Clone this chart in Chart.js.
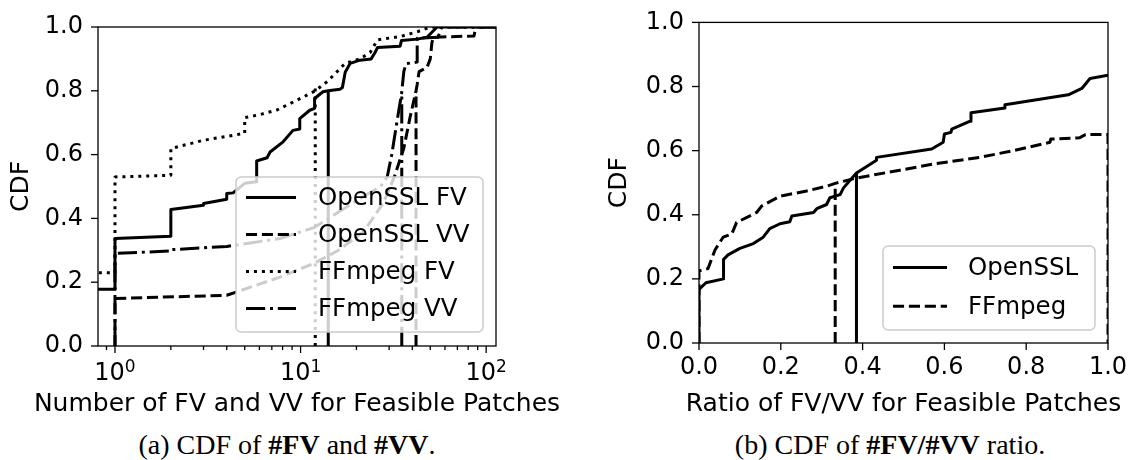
<!DOCTYPE html>
<html>
<head>
<meta charset="utf-8">
<script src="https://cdn.jsdelivr.net/npm/chart.js@4.4.1/dist/chart.umd.min.js"></script>
<style>
  body { margin: 0; background: #fff; width: 1135px; height: 460px; overflow: hidden; position: relative; }
  canvas { position: absolute; top: 0; }
  #cdfCount { left: 0; }
  #cdfRatio { left: 600px; }
  .cap { position: absolute; top: 429px; font-family: "Liberation Serif"; font-size: 28px; white-space: nowrap; transform: translateX(-50%); color: #000; }
</style>
</head>
<body>
<canvas id="cdfCount" width="570" height="420"></canvas>
<canvas id="cdfRatio" width="535" height="420"></canvas>
<div class="cap" style="left:287px">(a) CDF of <b>#FV</b> and <b>#VV</b>.</div>
<div class="cap" style="left:890px">(b) CDF of <b>#FV/#VV</b> ratio.</div>
<script>
// (a) number of FV / VV per feasible patch, log x
const opensslFV = [[0.5,0.178],[1,0.178],[1,0.337],[2,0.344],[2,0.428],[3,0.441],[3,0.447],[4,0.46],[4,0.478],[4.33,0.48],[5,0.51],[5.8,0.515],[5.8,0.58],[6.6,0.59],[6.85,0.608],[8.05,0.64],[9.1,0.676],[9.9,0.68],[9.9,0.713],[11.2,0.739],[11.9,0.745],[11.9,0.776],[13.2,0.797],[14.1,0.8],[16.3,0.805],[16.8,0.81],[17.4,0.858],[18.5,0.886],[20.9,0.896],[24,0.9],[25.2,0.92],[26,0.936],[34.4,0.94],[35,0.958],[42.5,0.962],[48,0.968],[54.4,1.0],[120,1.0]];
const opensslVV = [[1,0],[1,0.149],[4,0.159],[7.75,0.216],[11.9,0.26],[16,0.3],[22,0.36],[28,0.45],[32,0.53],[36,0.62],[39,0.72],[41.9,0.8],[42.5,0.82],[43.5,0.86],[48,0.873],[50,0.9],[51,0.95],[52,0.968],[86,0.972],[88,1.0],[120,1.0]];
const ffmpegFV = [[0.5,0.23],[1,0.23],[1,0.53],[2,0.535],[2,0.619],[3,0.645],[4.3,0.66],[5,0.667],[5,0.716],[6,0.725],[7.47,0.74],[10.3,0.78],[12,0.8],[14,0.83],[17.4,0.886],[20.9,0.9],[23.7,0.92],[26,0.96],[34.4,0.97],[42.5,0.985],[50,1.0],[120,1.0]];
const ffmpegVV = [[1,0],[1,0.29],[2,0.298],[2,0.302],[4,0.312],[7.75,0.337],[11.9,0.372],[16,0.42],[22,0.47],[27,0.5],[29.3,0.53],[31,0.6],[33,0.7],[35,0.79],[36,0.86],[37,0.885],[42.5,0.89],[42.5,0.965],[55,0.968],[57.7,1.0],[120,1.0]];
// 80th percentile markers [x, y]
const p80Count = [[14.1,0.8],[41.9,0.8],[12,0.81],[35.1,0.79]];
const countTicks = [0.9,1,2,3,4,5,6,7,8,9,10,20,30,40,50,60,70,80,90,100];
const countExponents = {1: '0', 10: '1', 100: '2'};
const countNames = ['OpenSSL FV', 'OpenSSL VV', 'FFmpeg FV', 'FFmpeg VV'];

// (b) FV/VV ratio
const opensslRatio = [[0,0],[0,0.167],[0.017,0.188],[0.06,0.2],[0.06,0.261],[0.071,0.275],[0.1,0.295],[0.133,0.31],[0.157,0.33],[0.173,0.357],[0.198,0.372],[0.222,0.378],[0.227,0.396],[0.28,0.407],[0.288,0.419],[0.312,0.432],[0.32,0.453],[0.345,0.463],[0.353,0.483],[0.364,0.5],[0.385,0.53],[0.434,0.57],[0.434,0.579],[0.569,0.605],[0.597,0.626],[0.6,0.652],[0.616,0.657],[0.618,0.667],[0.663,0.692],[0.665,0.718],[0.748,0.733],[0.748,0.743],[0.903,0.774],[0.936,0.794],[0.956,0.825],[1,0.835]];
const ffmpegRatio = [[0,0],[0,0.225],[0.022,0.232],[0.039,0.29],[0.059,0.33],[0.08,0.34],[0.092,0.376],[0.141,0.407],[0.153,0.427],[0.198,0.458],[0.263,0.474],[0.312,0.489],[0.333,0.498],[0.383,0.514],[0.491,0.539],[0.581,0.56],[0.687,0.579],[0.768,0.6],[0.858,0.626],[0.86,0.636],[0.93,0.64],[0.945,0.65],[1,0.65],[1,0]];
const medianRatio = [[0.385,0.53],[0.333,0.5]];
const ratioNames = ['OpenSSL', 'FFmpeg'];

const LW = 3;
const styles = {
  solid: [],
  dashed: [3.7 * LW, 1.6 * LW],
  dotted: [1 * LW, 1.65 * LW],
  dashdot: [6.4 * LW, 1.6 * LW, 1 * LW, 1.6 * LW]
};
const FONT = 'DejaVu Sans';

const pts = arr => arr.map(p => ({x: p[0], y: p[1]}));

function lineSet(label, data, dash, inLegend) {
  return {
    label: label,
    data: pts(data),
    borderColor: '#000',
    borderWidth: LW,
    borderDash: dash,
    borderCapStyle: 'butt',
    borderJoinStyle: 'round',
    pointRadius: 0,
    tension: 0,
    fill: false,
    inLegend: inLegend
  };
}

function markerSet(p, dash) {
  return lineSet('', [[p[0], 0], [p[0], p[1]]], dash, false);
}

// frame, tick marks (major/minor), x title, 10^n labels and a matplotlib-like legend box
const mplLook = {
  id: 'mplLook',
  afterDatasetsDraw(chart, args, opts) {
    const ctx = chart.ctx;
    const a = chart.chartArea;
    ctx.save();
    ctx.strokeStyle = '#000';
    ctx.lineWidth = 1.3;
    ctx.strokeRect(a.left, a.top, a.right - a.left, a.bottom - a.top);
    ['x', 'y'].forEach(id => {
      const s = chart.scales[id];
      s.ticks.forEach(t => {
        const major = s.type !== 'logarithmic' || countExponents[t.value] !== undefined;
        const len = major ? 7 : 4;
        const p = s.getPixelForValue(t.value);
        ctx.beginPath();
        if (id === 'x') { ctx.moveTo(p, a.bottom); ctx.lineTo(p, a.bottom + len); }
        else { ctx.moveTo(a.left, p); ctx.lineTo(a.left - len, p); }
        ctx.stroke();
      });
    });

    ctx.fillStyle = '#000';
    // power-of-ten labels on the log axis
    const sx = chart.scales.x;
    if (sx.type === 'logarithmic') {
      ctx.textAlign = 'left';
      ctx.textBaseline = 'alphabetic';
      sx.ticks.forEach(t => {
        const e = countExponents[t.value];
        if (e === undefined) return;
        ctx.font = '24px "' + FONT + '"';
        const wb = ctx.measureText('10').width;
        ctx.font = '17px "' + FONT + '"';
        const we = ctx.measureText(e).width;
        const x0 = sx.getPixelForValue(t.value) - (wb + we) / 2;
        ctx.font = '24px "' + FONT + '"';
        ctx.fillText('10', x0, opts.supBase);
        ctx.font = '17px "' + FONT + '"';
        ctx.fillText(e, x0 + wb, opts.supBase - 8.5);
      });
    }

    // x axis title (drawn here so it is not squeezed to the axis width)
    ctx.font = '25px "' + FONT + '"';
    ctx.textAlign = 'center';
    ctx.textBaseline = 'middle';
    ctx.fillText(opts.xTitle, (a.left + a.right) / 2, opts.xTitleY);

    // legend
    const lg = opts.legend;
    ctx.beginPath();
    ctx.roundRect(lg.x, lg.y, lg.w, lg.h, 5);
    ctx.fillStyle = 'rgba(255,255,255,0.8)';
    ctx.fill();
    ctx.strokeStyle = '#cccccc';
    ctx.lineWidth = 1.5;
    ctx.stroke();
    const items = chart.data.datasets.filter(d => d.inLegend);
    ctx.font = lg.font + 'px "' + FONT + '"';
    ctx.textBaseline = 'middle';
    ctx.textAlign = 'left';
    items.forEach((d, i) => {
      const y = lg.rowY + i * lg.rowGap;
      ctx.beginPath();
      ctx.setLineDash(d.borderDash);
      ctx.lineCap = 'butt';
      ctx.strokeStyle = '#000';
      ctx.lineWidth = LW;
      ctx.moveTo(lg.lineX, y);
      ctx.lineTo(lg.lineX + lg.lineLen, y);
      ctx.stroke();
      ctx.setLineDash([]);
      ctx.fillStyle = '#000';
      ctx.fillText(d.label, lg.textX, y + 1);
    });
    ctx.restore();
  }
};

function yAxis(width, titlePad) {
  return {
    type: 'linear', min: 0, max: 1,
    grid: {display: false, tickLength: 7},
    border: {display: false},
    ticks: {stepSize: 0.2, padding: 8, color: '#000', font: {family: FONT, size: 24}, callback: v => v.toFixed(1)},
    title: {display: true, text: 'CDF', color: '#000', font: {family: FONT, size: 25}, padding: {top: titlePad, bottom: 0}},
    afterFit: s => { s.width = width; }
  };
}

Chart.defaults.animation = false;

new Chart(document.getElementById('cdfCount'), {
  type: 'line',
  data: {
    datasets: [
      lineSet(countNames[0], opensslFV, styles.solid, true),
      lineSet(countNames[1], opensslVV, styles.dashed, true),
      lineSet(countNames[2], ffmpegFV, styles.dotted, true),
      lineSet(countNames[3], ffmpegVV, styles.dashdot, true),
      markerSet(p80Count[0], styles.solid),
      markerSet(p80Count[1], styles.dashed),
      markerSet(p80Count[2], styles.dotted),
      markerSet(p80Count[3], styles.dashdot)
    ]
  },
  options: {
    responsive: false,
    layout: {padding: {top: 27, right: 74, left: 0, bottom: 0}},
    plugins: {
      legend: {display: false},
      tooltip: {enabled: false},
      mplLook: {
        xTitle: 'Number of FV and VV for Feasible Patches', xTitleY: 404, supBase: 380,
        legend: {x: 236, y: 177, w: 247, h: 155, rowY: 197.5, rowGap: 37, lineX: 246, lineLen: 50, textX: 318, font: 24.5}
      }
    },
    scales: {
      x: {
        type: 'logarithmic', min: 0.81, max: 113,
        grid: {display: false, tickLength: 7},
        border: {display: false},
        afterBuildTicks: s => { s.ticks = countTicks.map(v => ({value: v})); },
        ticks: {autoSkip: false, maxRotation: 0, padding: 4, color: '#000', font: {family: FONT, size: 24},
          callback: () => ''},
        afterFit: s => { s.height = 74; }
      },
      y: yAxis(98, 6)
    }
  },
  plugins: [mplLook]
});

new Chart(document.getElementById('cdfRatio'), {
  type: 'line',
  data: {
    datasets: [
      lineSet(ratioNames[0], opensslRatio, styles.solid, true),
      lineSet(ratioNames[1], ffmpegRatio, styles.dashed, true),
      markerSet(medianRatio[0], styles.solid),
      markerSet(medianRatio[1], styles.dashed)
    ]
  },
  options: {
    responsive: false,
    layout: {padding: {top: 16, right: 27, left: 0, bottom: 0}},
    plugins: {
      legend: {display: false},
      tooltip: {enabled: false},
      mplLook: {
        xTitle: 'Ratio of FV/VV for Feasible Patches', xTitleY: 404, supBase: 380,
        legend: {x: 283, y: 246, w: 212, h: 84, rowY: 267.5, rowGap: 38.7, lineX: 293, lineLen: 54, textX: 368, font: 24.5}
      }
    },
    scales: {
      x: {
        type: 'linear', min: 0, max: 1,
        grid: {display: false, tickLength: 7},
        border: {display: false},
        ticks: {stepSize: 0.2, maxRotation: 0, padding: 3, color: '#000', font: {family: FONT, size: 24}, callback: v => v.toFixed(1)},
        afterFit: s => { s.height = 77; }
      },
      y: yAxis(99, 4)
    }
  },
  plugins: [mplLook]
});
</script>
</body>
</html>
